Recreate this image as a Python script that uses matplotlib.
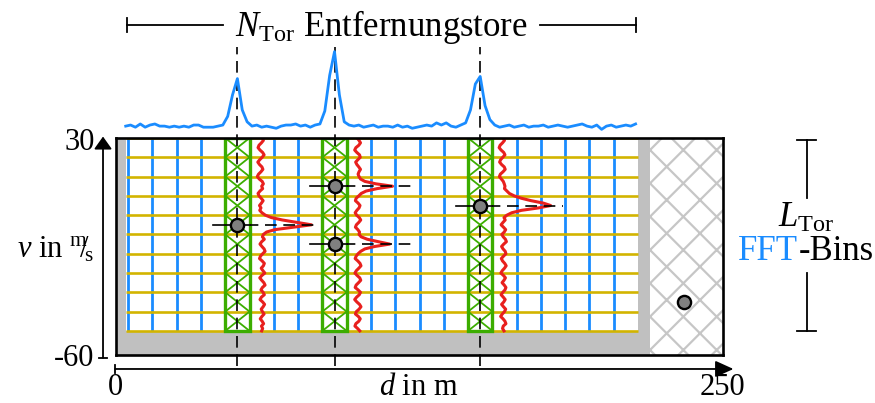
import numpy as np
import matplotlib
matplotlib.use('Agg')
import matplotlib.pyplot as plt
from matplotlib.patches import Rectangle, FancyArrowPatch

plt.rcParams['font.family'] = ['Liberation Serif', 'DejaVu Serif']
plt.rcParams['mathtext.fontset'] = 'custom'
plt.rcParams['mathtext.rm'] = 'Liberation Serif'
plt.rcParams['mathtext.it'] = 'Liberation Serif:italic'
plt.rcParams['mathtext.bf'] = 'Liberation Serif:bold'
plt.rcParams['hatch.linewidth'] = 1.6

# ---------------- data ----------------
d_lim = [0, 250]
v_lim = [-60, 30]
x_tick_labels = ['0', '250']
y_tick_labels = ['30', '-60']
range_bin_lines = [5, 15, 25, 35, 45, 55, 65, 75, 85, 95, 105, 115, 125, 135,
                   145, 155, 165, 175, 185, 195, 205]
doppler_bin_lines = [30, 22, 14, 6, -2, -10, -18, -26, -34, -42, -50]
valid_d = [4, 215]
valid_v = [-50, 30]
ambig_d = [220, 250]
gate_centers = [50, 90, 150]
gate_half = 5
target_d = [50, 90, 90, 150, 234]
target_v = [-6, 10, -14, 2, -38]
target_gate = [True, True, True, True, False]

spec_d = np.arange(4, 215, 2)
spec_amp = [11, 12, 10, 13, 10, 12, 13, 11, 11, 10, 11, 10, 11, 10, 12, 12,
            10, 10, 10, 11, 12, 20, 40, 55, 26, 15, 11, 12, 10, 11, 10, 9,
            11, 12, 12, 13, 11, 12, 10, 12, 13, 25, 58, 80, 40, 15, 12, 11,
            12, 10, 11, 12, 10, 11, 11, 10, 12, 10, 11, 9, 10, 11, 12, 11,
            14, 12, 14, 11, 10, 12, 14, 26, 50, 57, 30, 17, 12, 10, 11, 12,
            10, 11, 12, 10, 11, 11, 12, 10, 11, 12, 11, 10, 11, 12, 13, 11,
            10, 12, 8, 11, 12, 10, 11, 12, 11, 13]

prof_v = np.arange(30, -51, -1)
prof_base = [59.5, 99.5, 159.0]
prof_gate1 = [0.8, 1.2, 0.4, -0.6, -1.0, -0.2, 0.9, 1.5, 0.7, -0.3,
              -1.1, -0.4, 0.6, 1.0, 0.2, -0.8, -1.3, -0.5, 0.7, 1.2,
              0.5, 0.9, -0.2, -1.0, -0.6, 0.3, 1.1, 0.4, -0.4, 0.2,
              -0.3, 0.6, 2.0, 4.5, 9.0, 15.0, 21.0, 13.5, 6.0, 2.5,
              1.2, 0.8, 1.6, 0.5, -0.2, 0.6, 1.5, 1.9, 0.9, 0.0,
              -0.4, 0.7, 1.6, 1.2, 0.3, 1.0, 1.8, 0.6, -0.3, 0.5,
              1.4, 1.9, 0.8, 0.2, 1.1, 1.6, 0.4, -0.2, 0.9, 1.7,
              1.1, 0.3, 0.8, 1.5, 0.6, -0.1, 0.7, 1.3, 0.4, 0.9,
              0.5]
prof_gate2 = [-0.2, 0.6, 1.2, 0.5, -0.7, -1.2, -0.3, 0.8, 1.1, 0.1,
              -0.8, -0.3, 0.5, 1.2, 0.6, 0.2, 0.6, 1.2, 3.0, 7.5,
              14.4, 8.0, 3.5, 1.5, 0.5, -0.6, -0.9, 0.2, 1.0, 0.6,
              -0.3, -1.0, -0.4, 0.7, 1.3, 0.5, -0.5, -0.9, 0.1, 0.8,
              0.6, 1.5, 4.0, 8.5, 13.2, 7.0, 3.0, 1.3, 0.2, -0.6,
              -1.0, 0.1, 1.0, 1.4, 0.5, -0.5, -1.1, -0.2, 0.9, 1.3,
              0.4, -0.6, -1.0, 0.2, 1.2, 0.7, -0.4, -1.2, -0.3, 0.8,
              1.4, 0.6, -0.5, -0.9, 0.3, 1.1, 0.5, -0.7, -1.1, 0.0,
              0.9]
prof_gate3 = [0.5, 1.0, 0.2, -0.8, -1.2, -0.4, 0.7, 1.2, 0.3, -0.6,
              -1.0, -0.2, 0.9, 1.3, 0.4, -0.7, -1.1, -0.3, 0.5, 0.9,
              1.2, 1.0, 2.0, 3.0, 5.0, 8.0, 12.0, 17.0, 20.0, 15.0,
              8.0, 4.0, 2.0, 0.8, 1.3, 0.4, -0.4, 0.6, 1.5, 0.9,
              -0.1, 0.5, 1.4, 1.8, 0.7, -0.2, 0.4, 1.3, 1.6, 0.6,
              -0.3, 0.2, 1.1, 1.7, 1.0, 0.1, -0.5, 0.6, 1.4, 0.8,
              0.0, 0.9, 1.6, 1.2, 0.3, -0.4, 0.5, 1.3, 0.7, -0.2,
              0.6, 1.5, 1.0, 0.1, -0.6, 0.4, 1.2, 1.6, 0.5, 0.2,
              0.8]
profiles = [prof_gate1, prof_gate2, prof_gate3]

title_text = r'$N_{\mathrm{Tor}}$ Entfernungstore'
xlabel_text = r'$d$ in m'
ylabel_text = r'$v$ in ${}^{\mathrm{m}}\!\!/\!{}_{\mathrm{s}}$'
right_label_1 = r'$L_{\mathrm{Tor}}$'
right_label_2a = 'FFT'
right_label_2b = '-Bins'

# ---------------- style ----------------
BLUE = '#1a8cff'
YELLOW = '#d2b400'
GREEN = '#3cad00'
RED = '#e8201e'
GREY = '#c0c0c0'
HATCH = '#c6c6c6'
FS = 22
FS_BIG = 25

W, H = 875, 403
fig = plt.figure(figsize=(W / 100, H / 100), dpi=100)
fig.patch.set_facecolor('white')

L, R, T, B = 116, 723, 138, 355
ax = fig.add_axes([L / W, 1 - B / H, (R - L) / W, (B - T) / H])
ax.set_xlim(d_lim)
ax.set_ylim(v_lim)
ax.set_facecolor(GREY)
ax.set_xticks([])
ax.set_yticks([])
for s in ax.spines.values():
    s.set_linewidth(1.9)
    s.set_zorder(20)

# spectrum axes on top
ST = 30
axs = fig.add_axes([L / W, 1 - T / H, (R - L) / W, (T - ST) / H])
axs.set_xlim(d_lim)
axs.set_ylim(0, 100)
axs.axis('off')

# valid region
ax.add_patch(Rectangle((valid_d[0], valid_v[0]), valid_d[1] - valid_d[0],
                       valid_v[1] - valid_v[0], facecolor='white',
                       edgecolor='none', zorder=1))
# ambiguous hatched region
ax.add_patch(Rectangle((ambig_d[0], v_lim[0]), ambig_d[1] - ambig_d[0],
                       v_lim[1] - v_lim[0], facecolor='white', edgecolor=HATCH,
                       hatch='x', linewidth=0, zorder=1))

# grid
for d in range_bin_lines:
    ax.plot([d, d], valid_v, color=BLUE, lw=2.0, zorder=2, solid_capstyle='butt')
for v in doppler_bin_lines:
    ax.plot(valid_d, [v, v], color=YELLOW, lw=1.9, zorder=3, solid_capstyle='butt')

# gates
for c in gate_centers:
    x0, x1 = c - gate_half, c + gate_half
    for k in range(len(doppler_bin_lines) - 1):
        va, vb = doppler_bin_lines[k], doppler_bin_lines[k + 1]
        ax.plot([x0, x1], [va, vb], color=GREEN, lw=1.3, zorder=4)
        ax.plot([x0, x1], [vb, va], color=GREEN, lw=1.3, zorder=4)
    ax.add_patch(Rectangle((x0, valid_v[0]), x1 - x0, valid_v[1] - valid_v[0],
                           facecolor='none', edgecolor=GREEN, lw=2.4, zorder=5))

# red Doppler profiles
for base, prof in zip(prof_base, profiles):
    ax.plot(base + np.array(prof), prof_v, color=RED, lw=2.2, zorder=6,
            solid_joinstyle='round')

# vertical dashed gate centre lines
for c in gate_centers:
    ax.plot([c, c], [-64.5, 67.8], color='black', lw=1.2, ls=(0, (7, 4)),
            zorder=7, clip_on=False)

# horizontal target lines
for d, v, g in zip(target_d, target_v, target_gate):
    if g:
        ax.plot([d - 10, d + 5], [v, v], color='black', lw=1.2, zorder=7)
        ax.plot([d + 5, d + 34], [v, v], color='black', lw=1.2,
                ls=(2, (7, 4)), zorder=7)

# targets
ax.plot(target_d, target_v, 'o', ms=9.5, mfc='#808080', mec='black', mew=1.7,
        zorder=10, clip_on=False)

# spectrum
axs.plot(spec_d, spec_amp, color=BLUE, lw=2.0, zorder=5, solid_joinstyle='round')

# top bracket
yb = 104.6
axs.plot([4.5, 44.0], [yb, yb], color='black', lw=1.3, clip_on=False)
axs.plot([174.6, 214.0], [yb, yb], color='black', lw=1.3, clip_on=False)
for xe in (4.5, 214.0):
    axs.plot([xe, xe], [98.1, 111.1], color='black', lw=1.3, clip_on=False)
axs.text(109.3, yb - 1.5, title_text, fontsize=FS_BIG, ha='center', va='center',
         clip_on=False)

# right bracket
xr = 284.6
ax.plot([xr, xr], [29.2, 5.1], color='black', lw=1.3, clip_on=False)
ax.plot([xr, xr], [-26.0, -50.0], color='black', lw=1.3, clip_on=False)
for yv in (29.2, -50.0):
    ax.plot([280.5, 288.5], [yv, yv], color='black', lw=1.3, clip_on=False)
ax.text(284.3, -3.2, right_label_1, fontsize=FS_BIG, ha='center', va='center',
        clip_on=False)
ax.text(281.0, -17.0, right_label_2a, fontsize=FS_BIG, ha='right', va='center',
        color=BLUE, clip_on=False)
ax.text(281.0, -17.0, right_label_2b, fontsize=FS_BIG, ha='left', va='center',
        color='black', clip_on=False)

# y axis arrow
xa = -5.35
ax.add_patch(FancyArrowPatch((xa, -61.2), (xa, 30.6),
                             arrowstyle='-|>,head_length=0.38,head_width=0.27',
                             mutation_scale=20, lw=1.3, color='black',
                             clip_on=False, shrinkA=0, shrinkB=0))
ax.plot([-7.0, -3.7], [-61.2, -61.2], color='black', lw=1.3, clip_on=False)
ax.text(-8.8, 28.0, y_tick_labels[0], fontsize=FS, ha='right', va='center',
        clip_on=False)
ax.text(-8.8, -61.4, y_tick_labels[1], fontsize=FS, ha='right', va='center',
        clip_on=False)
ax.text(-8.8, -16.5, ylabel_text, fontsize=FS, ha='right', va='center',
        clip_on=False)

# x axis arrow
ya = -65.8
ax.add_patch(FancyArrowPatch((-0.4, ya), (254.3, ya),
                             arrowstyle='-|>,head_length=0.55,head_width=0.25',
                             mutation_scale=20, lw=1.3, color='black',
                             clip_on=False, shrinkA=0, shrinkB=0))
ax.plot([-0.4, -0.4], [-64.1, -67.5], color='black', lw=1.3, clip_on=False)
ax.text(-0.4, -73.5, x_tick_labels[0], fontsize=FS, ha='center', va='center',
        clip_on=False)
ax.text(249.6, -73.5, x_tick_labels[1], fontsize=FS, ha='center', va='center',
        clip_on=False)
ax.text(124.8, -73.5, xlabel_text, fontsize=FS, ha='center', va='center',
        clip_on=False)

fig.savefig('out.png', dpi=100)
